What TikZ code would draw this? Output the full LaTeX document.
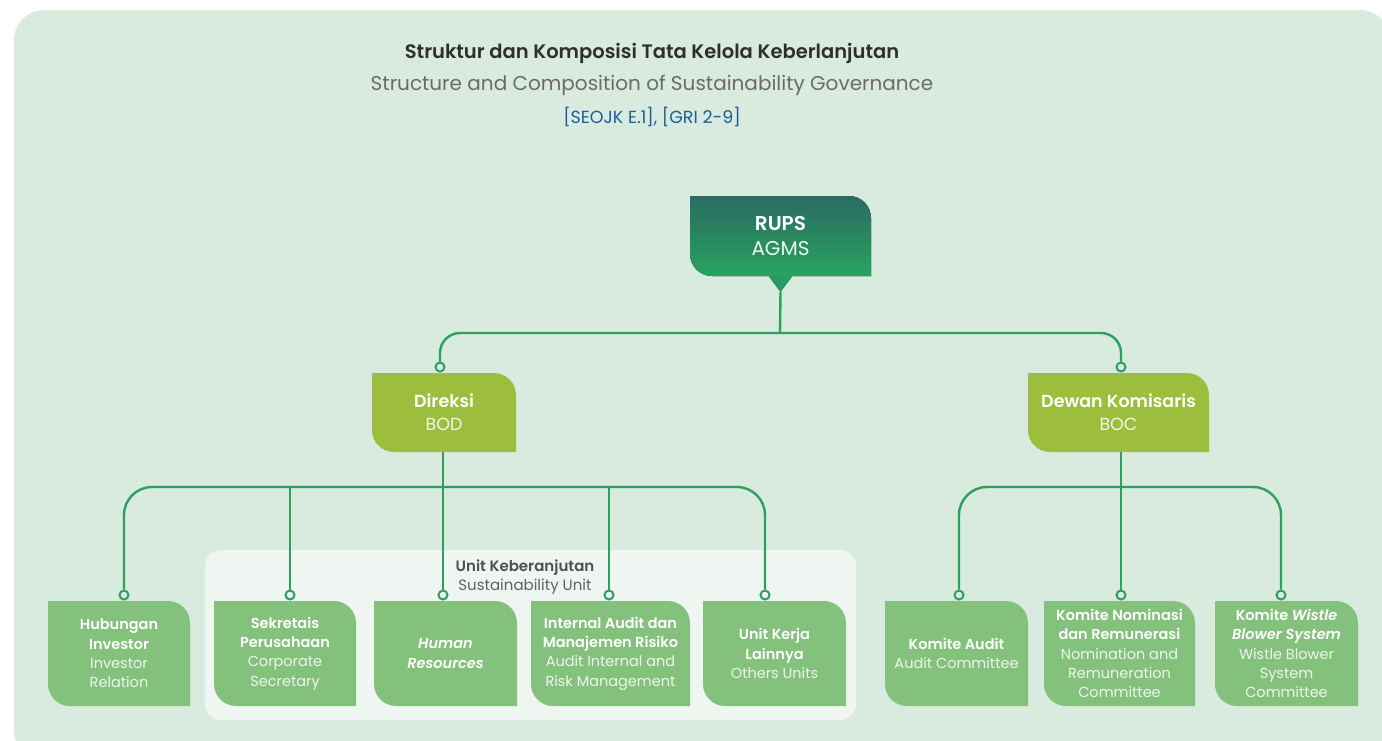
\documentclass[tikz,border=0pt]{standalone}
\usepackage{fontspec}
\setmainfont{Poppins}[BoldFont={Poppins SemiBold}, BoldItalicFont={Poppins SemiBold Italic}]
\usetikzlibrary{calc}

\definecolor{pagebg}{HTML}{D8EBDE}
\definecolor{unitbg}{HTML}{EFF6F1}
\definecolor{conn}{HTML}{2BA05F}
\definecolor{olive}{HTML}{9CBE3C}
\definecolor{leaf}{HTML}{84C17D}
\definecolor{rupstop}{HTML}{2B6B62}
\definecolor{rupsbot}{HTML}{27A45F}
\definecolor{rupstip}{HTML}{289A62}
\definecolor{titlec}{HTML}{2E2E2E}
\definecolor{subc}{HTML}{6B6B6B}
\definecolor{refc}{HTML}{1D5D99}
\definecolor{unitbold}{HTML}{505050}
\definecolor{unitreg}{HTML}{606060}
\definecolor{softwhite}{HTML}{EEF7EC}

% box with square top-left / bottom-right and rounded top-right / bottom-left
\newcommand\tabfill[1]{%
  \fill[#1] (path picture bounding box.north west)
    -- ($(path picture bounding box.north east)+(-22pt,0)$)
    arc[start angle=90,end angle=0,radius=22pt]
    -- (path picture bounding box.south east)
    -- ($(path picture bounding box.south west)+(22pt,0)$)
    arc[start angle=270,end angle=180,radius=22pt]
    -- cycle;}

\newcommand\hd[1]{\textbf{#1}}
\newcommand\en[1]{\textcolor{softwhite}{#1}}

\tikzset{
  tab/.style={shape=rectangle, inner sep=0pt, align=center, text=white},
  rupsbox/.style={tab, minimum width=181, minimum height=80,
    font=\fontsize{20}{25}\selectfont,
    path picture={\tabfill{top color=rupstop,bottom color=rupsbot}}},
  boardbox/.style={tab, minimum width=#1, minimum height=79,
    font=\fontsize{17.5}{23}\selectfont,
    path picture={\tabfill{olive}}},
  leafbox/.style={tab, minimum width=#1, minimum height=105,
    font=\fontsize{14.5}{19.3}\selectfont,
    path picture={\tabfill{leaf}}},
  conn/.style={draw=conn, line width=2.4pt},
  pin/.style={circle, draw=conn, line width=2pt, fill=#1, minimum size=9pt, inner sep=0pt},
  pin/.default=pagebg
}

\begin{document}
\begin{tikzpicture}[x=1pt,y=-1pt]
\useasboundingbox (0,0) rectangle (1382,740);
\clip (0,0) rectangle (1382,740);
\fill[white] (0,0) rectangle (1382,740);
\fill[pagebg, rounded corners=30pt] (14,10) rectangle (1390,760);

% heading
\node[font=\bfseries\fontsize{19.5}{22}\selectfont, text=titlec] (title) at (652,53)
  {Struktur dan Komposisi Tata Kelola Keberlanjutan};
\node[font=\fontsize{20}{24}\selectfont, text=subc] (subtitle) at (652,85)
  {Structure and Composition of Sustainability Governance};
\node[font=\fontsize{17.5}{20}\selectfont, text=refc] (refs) at (652,117)
  {[SEOJK E.1], [GRI 2-9]};

% sustainability unit panel
\fill[unitbg, rounded corners=16pt] (205,550) rectangle (856,720);
\node[align=center, font=\fontsize{15}{19}\selectfont] (unitlbl) at (525,577)
  {\textcolor{unitbold}{\textbf{Unit Keberanjutan}}\\\textcolor{unitreg}{Sustainability Unit}};

% top level
\node[rupsbox] (rups) at (780.5,236) {\hd{RUPS}\\\en{AGMS}};
\fill[rupstip] ($(rups.south)+(-12pt,0)$) -- ($(rups.south)+(12pt,0)$)
  -- ($(rups.south)+(0,-16pt)$) -- cycle;
\coordinate (rupstipc) at ($(rups.south)+(0,-16pt)$);

% boards
\node[boardbox=144] (dir) at (444,412.5) {\hd{Direksi}\\\en{BOD}};
\node[boardbox=181] (dew) at (1118.5,412.5) {\hd{Dewan Komisaris}\\\en{BOC}};

% units under the directors
\node[leafbox=142] (hub) at (119,653.5) {\hd{Hubungan}\\\hd{Investor}\\\en{Investor}\\\en{Relation}};
\node[leafbox=142] (sek) at (285,653.5) {\hd{Sekretais}\\\hd{Perusahaan}\\\en{Corporate}\\\en{Secretary}};
\node[leafbox=143] (hr) at (445.5,653.5) {\textbf{\textit{Human}}\\\textbf{\textit{Resources}}};
\node[leafbox=159] (ia) at (610.5,653.5) {\hd{Internal Audit dan}\\\hd{Manajemen Risiko}\\\en{Audit Internal and}\\\en{Risk Management}};
\node[leafbox=143] (uk) at (774.5,653.5) {\hd{Unit Kerja}\\\hd{Lainnya}\\\en{Others Units}};

% committees under the commissioners
\node[leafbox=143] (ka) at (956.5,653.5) {\hd{Komite Audit}\\\en{Audit Committee}};
\node[leafbox=151] (kn) at (1119.5,653.5) {\hd{Komite Nominasi}\\\hd{dan Remunerasi}\\\en{Nomination and}\\\en{Remuneration}\\\en{Committee}};
\node[leafbox=143] (kw) at (1286.5,653.5) {\hd{Komite \textit{Wistle}}\\\textbf{\textit{Blower System}}\\\en{Wistle Blower}\\\en{System}\\\en{Committee}};

% connector ends
\node[pin] (c-dir) at (440,367) {};
\node[pin] (c-dew) at (1121,367) {};
\node[pin] (c-hub) at (124,595) {};
\node[pin=unitbg] (c-sek) at (290,595) {};
\node[pin=unitbg] (c-hr) at (443,595) {};
\node[pin=unitbg] (c-ia) at (609,595) {};
\node[pin=unitbg] (c-uk) at (765,595) {};
\node[pin] (c-ka) at (959,595) {};
\node[pin] (c-kn) at (1121,595) {};
\node[pin] (c-kw) at (1281,595) {};

\coordinate (topbus) at (780,333);
\coordinate (dbus) at (443,487);
\coordinate (bbus) at (1121,487);

% connectors
\draw[conn] (rupstipc) -- (topbus);
\draw[conn, rounded corners=20pt] (c-dir.north) |- (topbus) -| (c-dew.north);

\draw[conn, rounded corners=28pt] (c-hub.north) |- (dbus) -| (c-uk.north);
\draw[conn] (c-hr.north |- dir.south) -- (c-hr.north);
\draw[conn] (c-sek.north |- dbus) -- (c-sek.north);
\draw[conn] (c-ia.north |- dbus) -- (c-ia.north);

\draw[conn, rounded corners=28pt] (c-ka.north) |- (bbus) -| (c-kw.north);
\draw[conn] (c-kn.north |- dew.south) -- (c-kn.north);
\end{tikzpicture}
\end{document}
